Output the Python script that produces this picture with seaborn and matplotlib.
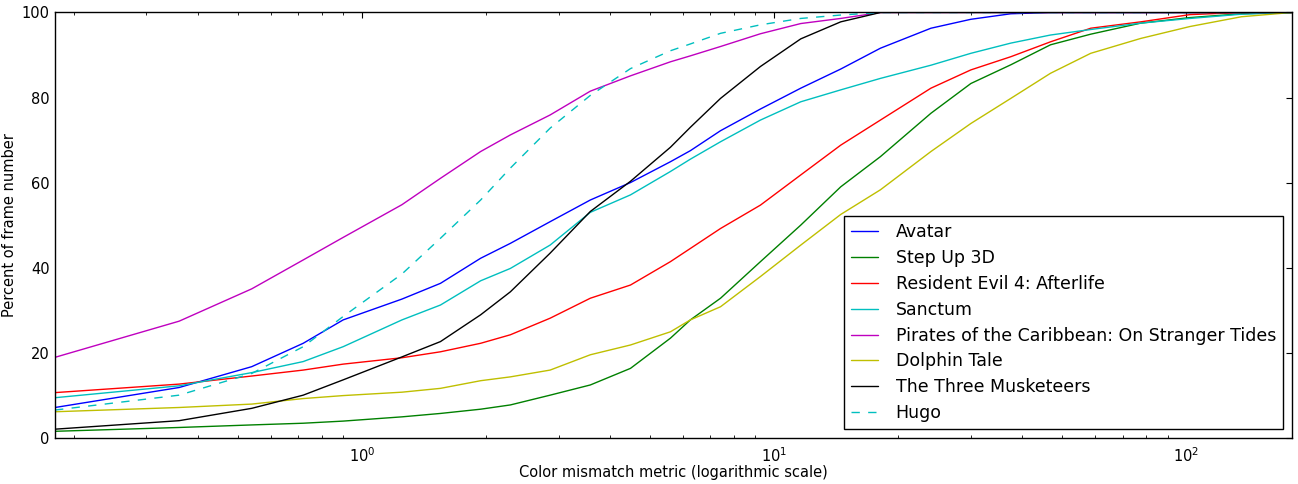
import matplotlib
matplotlib.use("Agg")
import matplotlib.pyplot as plt
import seaborn as sns
import numpy as np
import pandas as pd
from matplotlib.ticker import LogLocator

# ---- data ----
x_metric = [0.18, 0.36, 0.54, 0.72, 0.90, 1.25, 1.55, 1.94, 2.29, 2.86, 3.58, 4.48,
            5.60, 6.26, 7.41, 9.26, 11.6, 14.5, 18.1, 24.0, 30.0, 37.5, 46.8, 58.6,
            77.5, 102.0, 136.0, 180.0]

avatar = [7.1, 11.8, 16.7, 22.2, 27.7, 32.6, 36.3, 42.2, 45.7, 50.8, 55.9, 60.0,
          64.9, 67.5, 72.2, 77.3, 82.2, 86.7, 91.6, 96.3, 98.4, 99.7, 100, 100,
          100, 100, 100, 100]
step_up = [1.5, 2.4, 3.0, 3.4, 3.9, 4.9, 5.7, 6.7, 7.7, 10.0, 12.4, 16.3,
           23.4, 27.7, 32.8, 41.4, 50.0, 59.0, 66.1, 76.3, 83.3, 87.7, 92.4, 94.9,
           97.5, 98.8, 99.7, 100]
resident_evil = [10.6, 12.6, 14.5, 15.9, 17.3, 18.8, 20.2, 22.2, 24.2, 28.1, 32.8, 35.9,
                 41.4, 44.5, 49.2, 54.7, 61.8, 68.8, 74.7, 82.2, 86.5, 89.6, 93.1, 96.3,
                 97.8, 99.5, 100, 100]
sanctum = [9.4, 12.2, 15.3, 17.9, 21.4, 27.7, 31.2, 36.9, 39.8, 45.3, 53.0, 57.1,
           62.6, 65.5, 69.6, 74.7, 79.0, 81.8, 84.5, 87.6, 90.4, 92.8, 94.7, 96.0,
           97.5, 98.6, 99.6, 100]
pirates = [18.9, 27.4, 35.0, 41.8, 47.1, 54.8, 61.0, 67.3, 71.2, 75.9, 81.5, 85.1,
           88.4, 89.8, 92.0, 95.0, 97.4, 98.6, 100, 100, 100, 100, 100, 100,
           100, 100, 100, 100]
dolphin = [6.1, 7.1, 7.9, 9.2, 9.9, 10.7, 11.6, 13.4, 14.3, 15.9, 19.5, 21.8,
           24.9, 27.7, 30.8, 37.9, 45.3, 52.5, 58.3, 67.3, 73.9, 79.8, 85.7, 90.4,
           93.9, 96.7, 99.0, 100]
musketeers = [2.0, 4.0, 6.9, 10.0, 13.6, 19.0, 22.6, 28.9, 34.3, 43.4, 53.2, 60.3,
              68.3, 73.0, 79.8, 87.3, 93.8, 97.8, 100, 100, 100, 100, 100, 100,
              100, 100, 100, 100]
hugo = [6.5, 10.0, 15.1, 21.4, 28.5, 38.5, 46.9, 55.9, 63.4, 72.8, 80.5, 86.8,
        91.0, 92.6, 95.1, 97.1, 98.6, 99.4, 100, 100, 100, 100, 100, 100,
        100, 100, 100, 100]

series_names = ["Avatar", "Step Up 3D", "Resident Evil 4: Afterlife", "Sanctum",
                "Pirates of the Caribbean: On Stranger Tides", "Dolphin Tale",
                "The Three Musketeers", "Hugo"]
series_values = [avatar, step_up, resident_evil, sanctum, pirates, dolphin, musketeers, hugo]
colors = ["#0000ff", "#008000", "#ff0000", "#00bfbf", "#bf00bf", "#bfbf00", "#000000", "#00bfbf"]
styles = ["-", "-", "-", "-", "-", "-", "-", "--"]

sns.set_theme(style="white")
plt.rcParams["font.family"] = ["DejaVu Sans"]
plt.rcParams["xtick.direction"] = "in"
plt.rcParams["ytick.direction"] = "in"
plt.rcParams["xtick.top"] = True
plt.rcParams["ytick.right"] = True
plt.rcParams["axes.edgecolor"] = "black"
plt.rcParams["axes.linewidth"] = 1.0
plt.rcParams["text.color"] = "black"
plt.rcParams["axes.labelcolor"] = "black"
plt.rcParams["xtick.color"] = "black"
plt.rcParams["ytick.color"] = "black"

fig = plt.figure(figsize=(12.98, 4.84), dpi=100)
ax = fig.add_axes([0.0424, 0.0957, 0.9527, 0.8785])

for name, vals, c, ls in zip(series_names, series_values, colors, styles):
    sns.lineplot(x=x_metric, y=vals, ax=ax, color=c, linestyle=ls, linewidth=1.0,
                 label=name, estimator=None, sort=False)

for line in ax.get_lines():
    if line.get_linestyle() == "--":
        line.set_dashes([6, 6])

ax.set_xscale("log")
ax.set_xlim(0.18, 180)
ax.set_ylim(0, 100)
ax.set_yticks([0, 20, 40, 60, 80, 100])
ax.xaxis.set_major_locator(LogLocator(base=10))
ax.xaxis.set_minor_locator(LogLocator(base=10, subs=np.arange(2, 10)))
ax.tick_params(axis="both", which="major", length=4, width=0.8, labelsize=10.5)
ax.tick_params(axis="y", which="major", pad=4)
ax.tick_params(axis="x", which="major", pad=6)
ax.tick_params(axis="x", which="minor", length=2, width=0.6, top=True, bottom=True)
ax.set_xlabel("Color mismatch metric (logarithmic scale)", fontsize=10.5, labelpad=0)
ax.set_ylabel("Percent of frame number", fontsize=10.5, labelpad=3)

for spine in ax.spines.values():
    spine.set_visible(True)
    spine.set_color("black")

leg = ax.legend(loc="lower right", fontsize=12.5, frameon=True, fancybox=False,
                edgecolor="black", framealpha=1, handlelength=1.6, handletextpad=1.0,
                labelspacing=0.45, borderpad=0.4, borderaxespad=0.5)
leg.get_frame().set_linewidth(1.0)

fig.savefig("out.png", dpi=100, facecolor="white")
